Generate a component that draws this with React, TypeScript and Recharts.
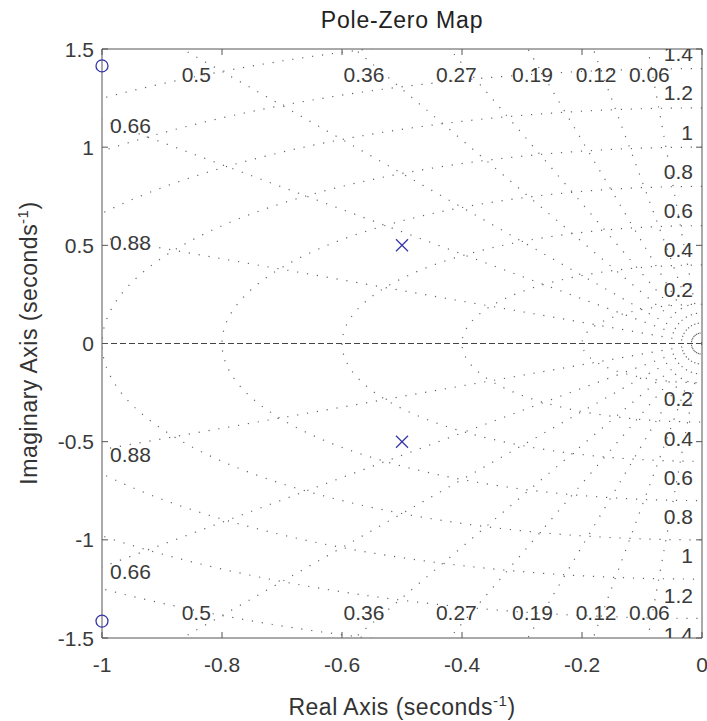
import React from 'react';
import {
  ComposedChart,
  XAxis,
  YAxis,
  Scatter,
  ReferenceLine,
  Customized,
} from 'recharts';

// ---- data ----
const poleReal = [-0.5, -0.5];
const poleImag = [0.5, -0.5];
const zeroReal = [-1, -1];
const zeroImag = [1.414, -1.414];

const dampingRatios = [0.06, 0.12, 0.19, 0.27, 0.36, 0.5, 0.66, 0.88];
const dampingLabels = ['0.06', '0.12', '0.19', '0.27', '0.36', '0.5', '0.66', '0.88'];
const naturalFreqs = [0.2, 0.4, 0.6, 0.8, 1, 1.2, 1.4, 1.6];
const freqLabels = ['0.2', '0.4', '0.6', '0.8', '1', '1.2', '1.4', '1.6'];

const xTicks = [-1, -0.8, -0.6, -0.4, -0.2, 0];
const yTicks = [-1.5, -1, -0.5, 0, 0.5, 1, 1.5];
const xTickLabels = ['-1', '-0.8', '-0.6', '-0.4', '-0.2', '0'];
const yTickLabels = ['-1.5', '-1', '-0.5', '0', '0.5', '1', '1.5'];

const X_DOMAIN: [number, number] = [-1, 0];
const Y_DOMAIN: [number, number] = [-1.5, 1.5];

// ---- layout ----
const W = 707;
const H = 721;
const MARGIN = { top: 49, right: 5, bottom: 43, left: 42 };
const Y_AXIS_W = 60;
const X_AXIS_H = 40;
const PLOT = {
  left: MARGIN.left + Y_AXIS_W,
  top: MARGIN.top,
  right: W - MARGIN.right,
  bottom: H - MARGIN.bottom - X_AXIS_H,
};

// ---- derived tables ----
const poles = poleReal.map((x, i) => ({ x, y: poleImag[i] }));
const zeros = zeroReal.map((x, i) => ({ x, y: zeroImag[i] }));

const rayFar = 3;
const rays = dampingRatios.flatMap((z) => {
  const s = Math.sqrt(1 - z * z);
  return [
    [{ x: 0, y: 0 }, { x: -rayFar * z, y: rayFar * s }],
    [{ x: 0, y: 0 }, { x: -rayFar * z, y: -rayFar * s }],
  ];
});

const circles = naturalFreqs.map((wn) => {
  const pts: { x: number; y: number }[] = [];
  const n = 180;
  for (let i = 0; i <= n; i++) {
    const th = Math.PI / 2 + (Math.PI * i) / n;
    pts.push({ x: wn * Math.cos(th), y: wn * Math.sin(th) });
  }
  return pts;
});

// damping label anchors (on each ray, near the boundary)
const yLabelLevel = 1.46;
const xLeftLabel = -1;
const dampingLabelPts = dampingRatios.flatMap((z, i) => {
  const t = Math.sqrt(1 - z * z) / z;
  const xAtTop = -yLabelLevel / t;
  if (xAtTop >= -1) {
    return [
      { x: xAtTop, y: yLabelLevel, text: dampingLabels[i], kind: 'top' },
      { x: xAtTop, y: -yLabelLevel, text: dampingLabels[i], kind: 'bottom' },
    ];
  }
  const yAtLeft = -xLeftLabel * t;
  return [
    { x: xLeftLabel, y: yAtLeft, text: dampingLabels[i], kind: 'left' },
    { x: xLeftLabel, y: -yAtLeft, text: dampingLabels[i], kind: 'left' },
  ];
});

const freqLabelPts = naturalFreqs.flatMap((wn, i) => [
  { x: 0, y: wn, text: freqLabels[i], kind: 'rTop' },
  { x: 0, y: -wn, text: freqLabels[i], kind: 'rBottom' },
]);

const gridLabelPts = [...dampingLabelPts, ...freqLabelPts];

// ---- styles ----
const FONT = '"Liberation Sans", Arial, Helvetica, sans-serif';
const AXIS = '#555';
const TXT = '#3a3a3a';
const GRID = '#666';
const MARK = '#3535a8';
const LABEL_SIZE = 21;
const DOTS = { stroke: GRID, strokeWidth: 1.2, strokeDasharray: '1.2 8.8' };

const fmtX = (v: number) => xTickLabels[xTicks.indexOf(v)] ?? String(v);
const fmtY = (v: number) => yTickLabels[yTicks.indexOf(v)] ?? String(v);

const BottomTick = (p: any) => (
  <g>
    <line x1={p.x} y1={p.y} x2={p.x} y2={p.y - 6} stroke={AXIS} />
    <text x={p.x} y={p.y + 26} textAnchor="middle" dominantBaseline="central" fontFamily={FONT} fontSize={LABEL_SIZE} fill={TXT}>
      {fmtX(p.payload.value)}
    </text>
  </g>
);
const LeftTick = (p: any) => (
  <g>
    <line x1={p.x} y1={p.y} x2={p.x + 6} y2={p.y} stroke={AXIS} />
    <text x={p.x - 8} y={p.y} textAnchor="end" dominantBaseline="central" fontFamily={FONT} fontSize={LABEL_SIZE} fill={TXT}>
      {fmtY(p.payload.value)}
    </text>
  </g>
);

const PoleShape = (p: any) => (
  <g stroke={MARK} strokeWidth={1.3}>
    <line x1={p.cx - 6} y1={p.cy - 6} x2={p.cx + 6} y2={p.cy + 6} />
    <line x1={p.cx - 6} y1={p.cy + 6} x2={p.cx + 6} y2={p.cy - 6} />
  </g>
);
const ZeroShape = (p: any) => <circle cx={p.cx} cy={p.cy} r={6} fill="none" stroke={MARK} strokeWidth={1.3} />;
const NoShape = () => <g />;

const LabelShape = (p: any) => {
  const d = p.payload ?? p;
  let x = p.cx;
  let y = p.cy;
  let anchor: 'start' | 'middle' | 'end' = 'middle';
  if (d.kind === 'top') y = p.cy + 18;
  else if (d.kind === 'bottom') y = p.cy - 18;
  else if (d.kind === 'left') { x = p.cx + 8; y = p.cy + 5; anchor = 'start'; }
  else if (d.kind === 'rTop') { x = p.cx - 9; y = p.cy - 15; anchor = 'end'; }
  else if (d.kind === 'rBottom') { x = p.cx - 9; y = p.cy + 16; anchor = 'end'; }
  return (
    <text x={x} y={y} textAnchor={anchor} dominantBaseline="central" fontFamily={FONT} fontSize={LABEL_SIZE} fill={TXT}>
      {d.text}
    </text>
  );
};

// top and right frame edges with inward ticks (MATLAB box)
const px = (v: number) => PLOT.left + ((v - X_DOMAIN[0]) / (X_DOMAIN[1] - X_DOMAIN[0])) * (PLOT.right - PLOT.left);
const py = (v: number) => PLOT.bottom - ((v - Y_DOMAIN[0]) / (Y_DOMAIN[1] - Y_DOMAIN[0])) * (PLOT.bottom - PLOT.top);

const Frame = () => (
  <g stroke={AXIS} strokeWidth={1} fill="none">
    <path d={`M${PLOT.left},${PLOT.top}H${PLOT.right}V${PLOT.bottom}`} />
    {xTicks.map((t) => (
      <line key={'tt' + t} x1={px(t)} y1={PLOT.top} x2={px(t)} y2={PLOT.top + 6} />
    ))}
    {yTicks.map((t) => (
      <line key={'rt' + t} x1={PLOT.right} y1={py(t)} x2={PLOT.right - 6} y2={py(t)} />
    ))}
  </g>
);

const Titles = () => (
  <g fontFamily={FONT} fill="#222">
    <text x={402} y={28} textAnchor="middle" fontSize={23} letterSpacing={0.8}>Pole-Zero Map</text>
    <text x={402} y={715} textAnchor="middle" fontSize={23} letterSpacing={0.5} fill="#333">
      Real Axis (seconds<tspan dy={-9} fontSize={15}>-1</tspan><tspan dy={9}>)</tspan>
    </text>
    <text x={37} y={343} textAnchor="middle" fontSize={23} letterSpacing={0.5} fill="#333" transform="rotate(-90 37 343)">
      Imaginary Axis (seconds<tspan dy={-9} fontSize={15}>-1</tspan><tspan dy={9}>)</tspan>
    </text>
  </g>
);

export default function App() {
  return (
    <div style={{ position: 'absolute', left: 0, top: 0, width: W, height: H, background: '#fff' }}>
      <ComposedChart width={W} height={H} margin={MARGIN}>
        <XAxis xAxisId="main" type="number" dataKey="x" domain={X_DOMAIN} ticks={xTicks} interval={0}
          height={X_AXIS_H} tickSize={0} tickMargin={0} tickLine={false} tick={<BottomTick />} stroke={AXIS} />
        <YAxis yAxisId="main" type="number" dataKey="y" domain={Y_DOMAIN} ticks={yTicks} interval={0}
          width={Y_AXIS_W} tickSize={0} tickMargin={0} tickLine={false} tick={<LeftTick />} stroke={AXIS} />
        <XAxis xAxisId="grid" hide height={0} type="number" dataKey="x" domain={X_DOMAIN} allowDataOverflow />
        <YAxis yAxisId="grid" hide width={0} type="number" dataKey="y" domain={Y_DOMAIN} allowDataOverflow />

        {circles.map((pts, i) => (
          <Scatter key={'c' + i} xAxisId="grid" yAxisId="grid" data={pts} shape={NoShape}
            line={DOTS} lineType="joint" isAnimationActive={false} />
        ))}
        {rays.map((pts, i) => (
          <Scatter key={'r' + i} xAxisId="grid" yAxisId="grid" data={pts} shape={NoShape}
            line={DOTS} lineType="joint" isAnimationActive={false} />
        ))}

        <Scatter xAxisId="grid" yAxisId="grid" data={gridLabelPts} shape={<LabelShape />} isAnimationActive={false} />

        <ReferenceLine xAxisId="main" yAxisId="main" y={0} stroke="#444" strokeDasharray="6 3" />

        <Scatter xAxisId="main" yAxisId="main" data={zeros} shape={<ZeroShape />} isAnimationActive={false} />
        <Scatter xAxisId="main" yAxisId="main" data={poles} shape={<PoleShape />} isAnimationActive={false} />

        <Customized component={Frame} />
        <Customized component={Titles} />
      </ComposedChart>
    </div>
  );
}
